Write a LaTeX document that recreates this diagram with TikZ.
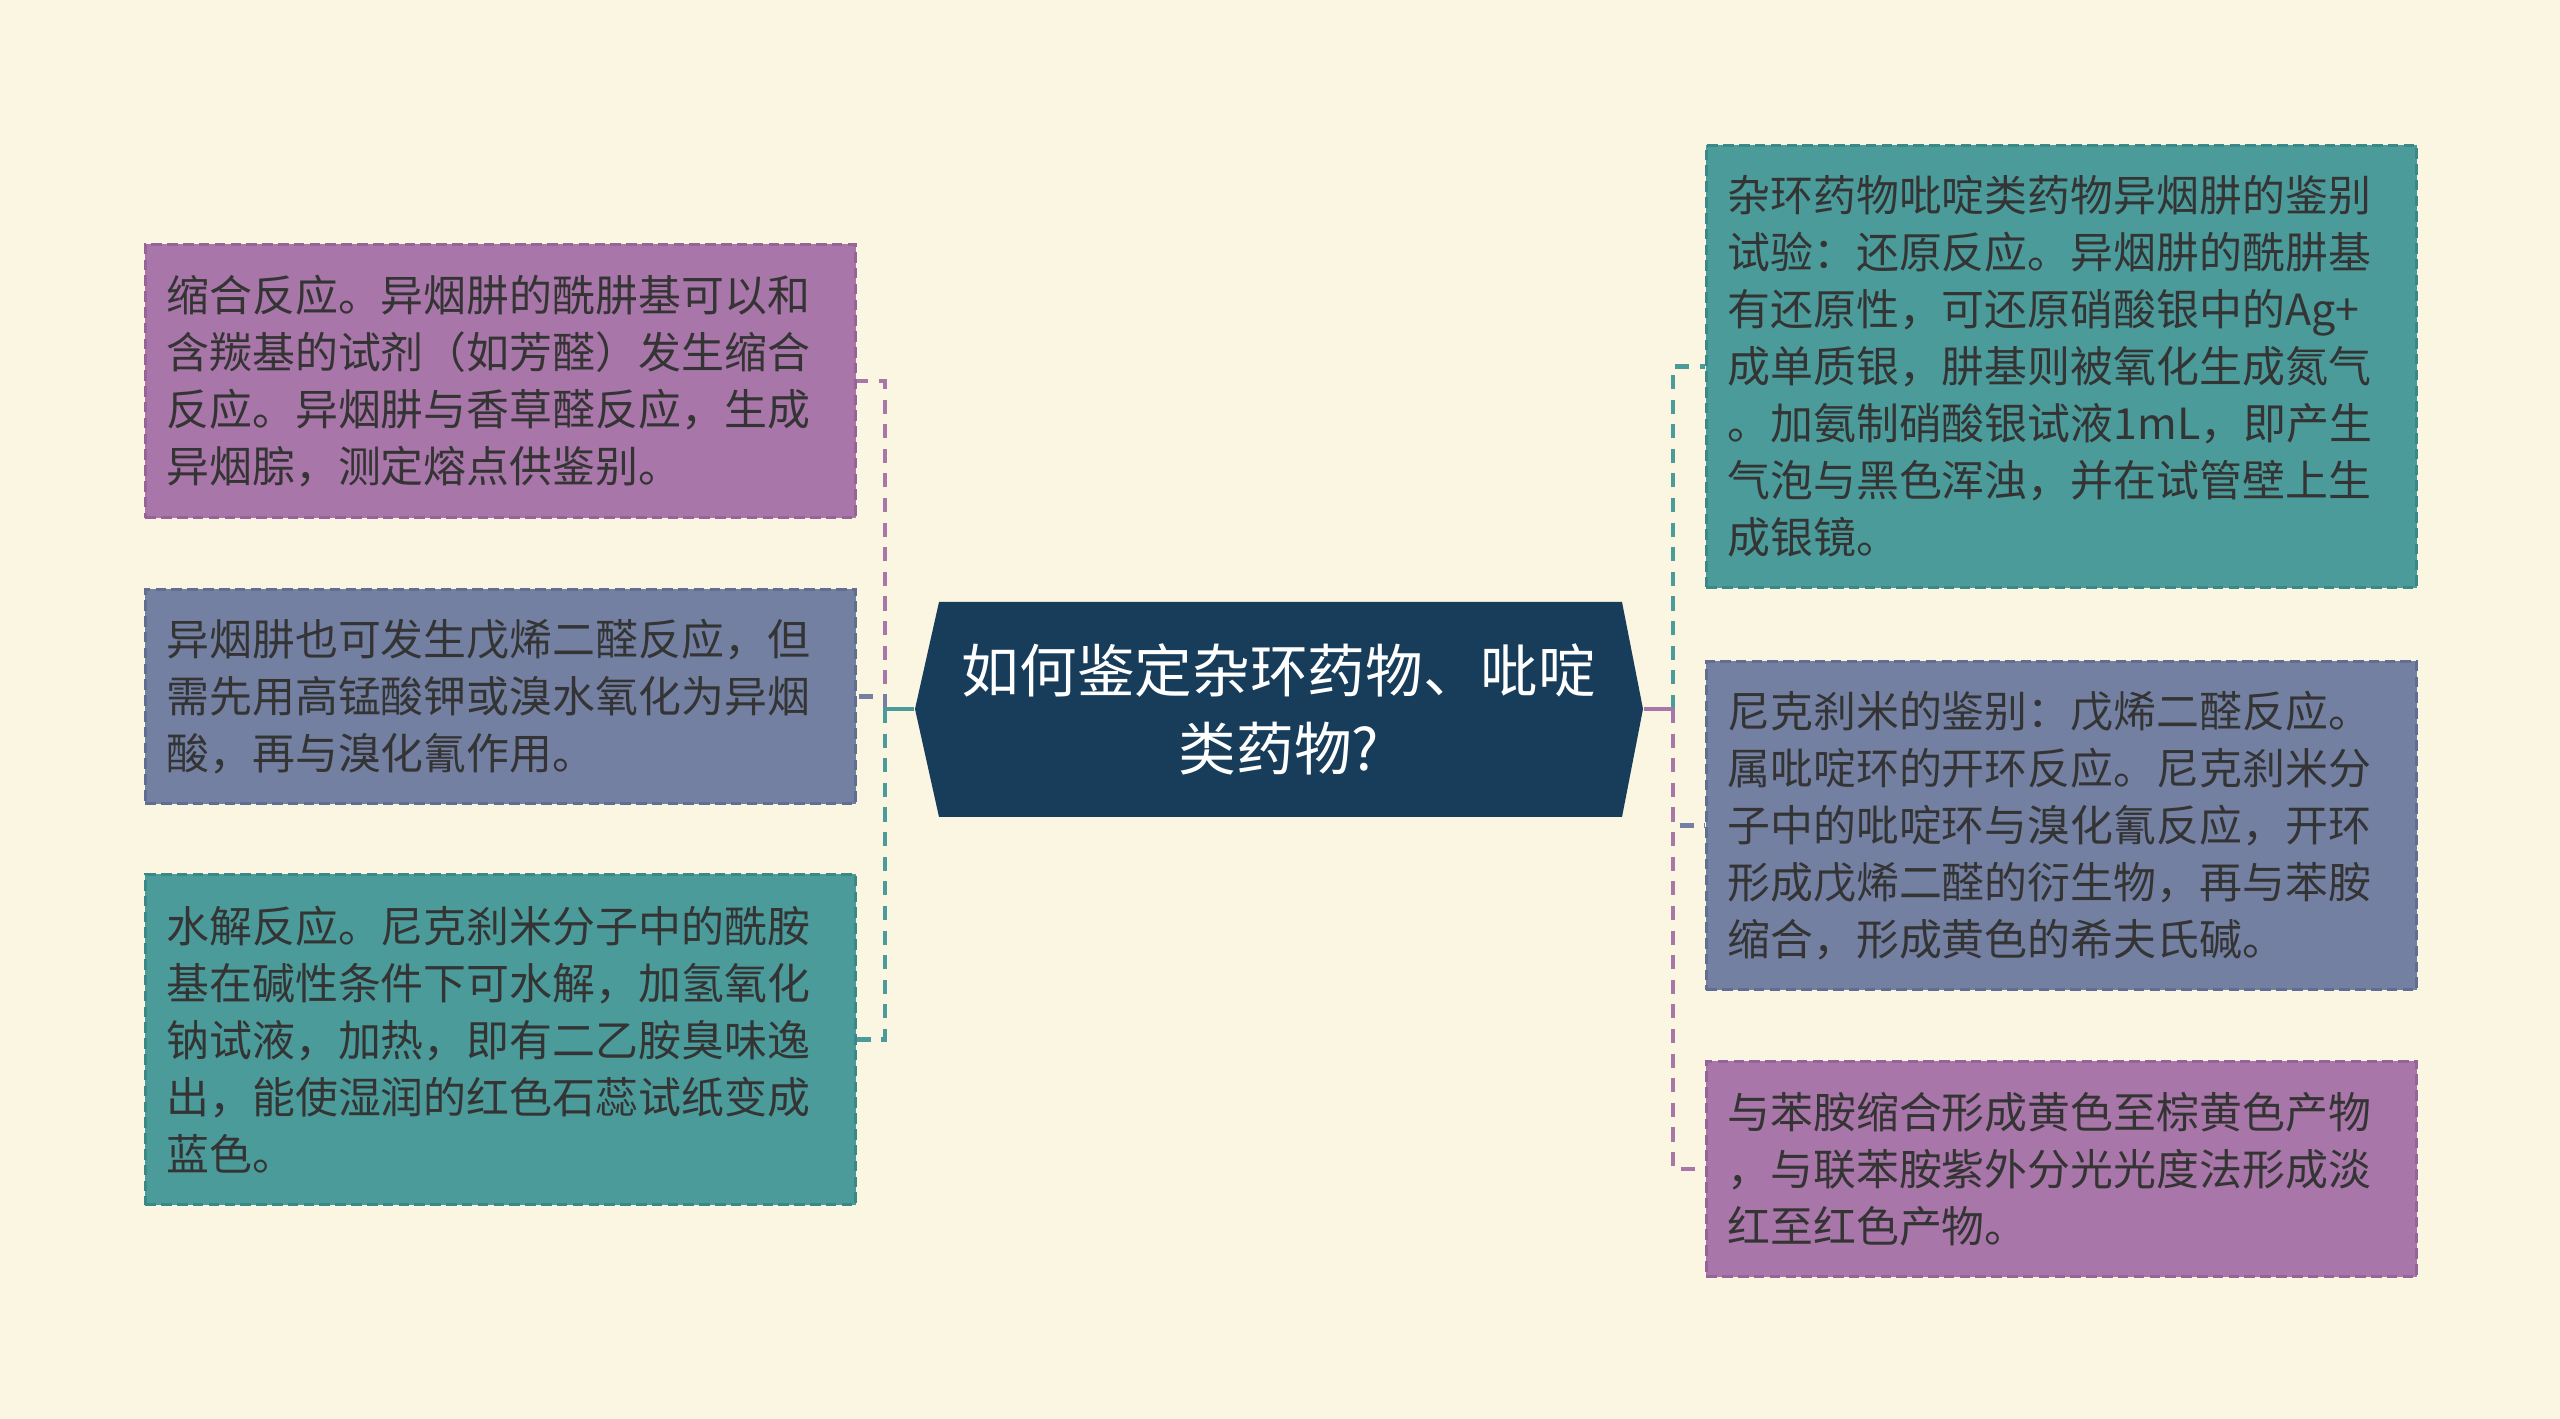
\documentclass[tikz,border=0pt]{standalone}
\usepackage{fontspec}
\setmainfont{Noto Sans CJK SC}
\usepackage{xcolor}
\definecolor{fundo} {RGB}{250,246,225}
\definecolor{roxo} {RGB}{168,118,168}
\definecolor{roxoborda} {RGB}{150,100,150}
\definecolor{cinza} {RGB}{115,128,162}
\definecolor{cinzaborda} {RGB}{98,110,145}
\definecolor{verde} {RGB}{74,155,154}
\definecolor{verdeborda} {RGB}{58,136,136}
\definecolor{marinho} {RGB}{23,61,91}
\definecolor{texto} {RGB}{52,52,52}

\tikzset{
  caixa/.style={rectangle, anchor=north west, dash pattern=on 3pt off 1.5pt, line width=0.8pt,
    text width=6.68cm, inner xsep=0.21cm, inner ysep=0pt, align=left, text=texto,
    font=\fontsize{12.2}{16.2}\selectfont},
  tronco/.style={line width=1.4pt},
  ramo/.style={line width=1.4pt, dash pattern=on 4pt off 3pt}
}

\begin{document}
\begin{tikzpicture}[x=0.01cm,y=-0.01cm]
                  \fill[fundo] (0,0) rectangle (2560,1419);
                  \useasboundingbox (0,0) rectangle (2560,1419);
                  \fill[marinho] (915,709) -- (939,602) -- (1622,602) -- (1643,709) -- (1622,817) -- (939,817) -- cycle;
                  \node[minimum width=7.28cm, minimum height=2.15cm, inner sep=0pt, align=center, text=white,
                        font=\fontsize{16.4}{22.2}\selectfont] (hub) at (1279,709) {如何鉴定杂环药物、吡啶\\类药物?};
                  \node[caixa, fill=roxo, draw=roxoborda, minimum height=2.73cm] (l1) at (144,243)
                        {缩合反应。异烟肼的酰肼基可以和\\含羰基的试剂（如芳醛）发生缩合\\反应。异烟肼与香草醛反应，生成\\异烟腙，测定熔点供鉴别。};
                  \node[caixa, fill=cinza, draw=cinzaborda, minimum height=2.14cm] (l2) at (144,588)
                        {异烟肼也可发生戊烯二醛反应，但\\需先用高锰酸钾或溴水氧化为异烟\\酸，再与溴化氰作用。};
                  \node[caixa, fill=verde, draw=verdeborda, minimum height=3.30cm] (l3) at (144,873)
                        {水解反应。尼克刹米分子中的酰胺\\基在碱性条件下可水解，加氢氧化\\钠试液，加热，即有二乙胺臭味逸\\出，能使湿润的红色石蕊试纸变成\\蓝色。};
                  \node[caixa, fill=verde, draw=verdeborda, minimum height=4.42cm] (r1) at (1705,144)
                        {杂环药物吡啶类药物异烟肼的鉴别\\试验：还原反应。异烟肼的酰肼基\\有还原性，可还原硝酸银中的Ag+\\成单质银，肼基则被氧化生成氮气\\。加氨制硝酸银试液1mL，即产生\\气泡与黑色浑浊，并在试管壁上生\\成银镜。};
                  \node[caixa, fill=cinza, draw=cinzaborda, minimum height=3.28cm] (r2) at (1705,660)
                        {尼克刹米的鉴别：戊烯二醛反应。\\属吡啶环的开环反应。尼克刹米分\\子中的吡啶环与溴化氰反应，开环\\形成戊烯二醛的衍生物，再与苯胺\\缩合，形成黄色的希夫氏碱。};
                  \node[caixa, fill=roxo, draw=roxoborda, minimum height=2.15cm] (r3) at (1705,1060)
                        {与苯胺缩合形成黄色至棕黄色产物\\，与联苯胺紫外分光光度法形成淡\\红至红色产物。};
                  \coordinate (jl) at (885,709);
                  \coordinate (jr) at (1673,709);
                  \draw[tronco, roxo] (hub.west) -- (jl);
                  \draw[ramo, roxo] (jl) |- (l1.east);
                  \draw[tronco, cinza] (hub.west) -- (jl);
                  \draw[ramo, cinza] (jl) |- (l2.east);
                  \draw[tronco, verde] (hub.west) -- (jl);
                  \draw[ramo, verde] (jl) |- (l3.east);
                  \draw[tronco, verde] (hub.east) -- (jr);
                  \draw[ramo, verde] (jr) |- (r1.west);
                  \draw[tronco, cinza] (hub.east) -- (jr);
                  \draw[ramo, cinza] (jr) |- (r2.west);
                  \draw[tronco, roxo] (hub.east) -- (jr);
                  \draw[ramo, roxo] (jr) |- (r3.west);
            \end{tikzpicture}
\end{document}
